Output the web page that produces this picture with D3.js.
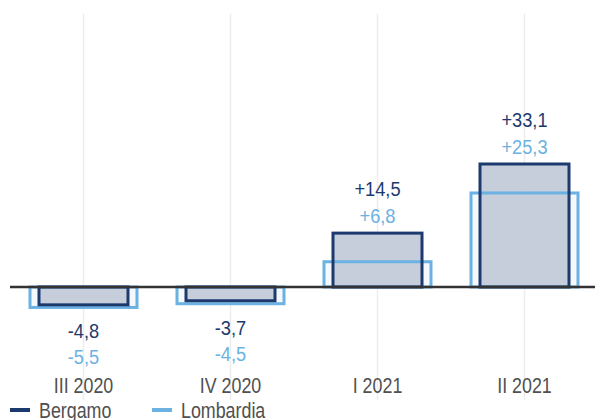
<!DOCTYPE html>
<html>
<head>
<meta charset="utf-8">
<script src="https://cdn.jsdelivr.net/npm/d3@7"></script>
<style>
  html, body { margin: 0; padding: 0; background: #fff; }
  svg { display: block; }
  text { font-family: "Liberation Sans", Arial, sans-serif; }
</style>
</head>
<body>
<div id="chart"></div>
<script>
// dati
const quarters = ['III 2020', 'IV 2020', 'I 2021', 'II 2021'];
const bergamo = [-4.8, -3.7, 14.5, 33.1];
const lombardia = [-5.5, -4.5, 6.8, 25.3];
const seriesNames = ['Bergamo', 'Lombardia'];

const W = 595, H = 420;
const dark = '#1d3a6e', light = '#6bb2e2';
const NARROW = 'scale(0.83,1)'; // simula un font condensato

const svg = d3.select('#chart').append('svg')
    .attr('width', W).attr('height', H);

// scale
const x = d3.scaleBand().domain(quarters).range([10, 598]).padding(0);
const y = d3.scaleLinear().domain([0, 33.1]).range([287, 164]);

const fmt = v => (v > 0 ? '+' : '') + d3.format('.1f')(v).replace('.', ',').replace('\u2212', '-');
const bw = x.bandwidth();
const wideW = 110, narrowW = 92;
const cx = d => x(d) + bw / 2;

// griglia verticale
svg.append('g').selectAll('line')
    .data(quarters).enter().append('line')
    .attr('x1', d => cx(d)).attr('x2', d => cx(d))
    .attr('y1', 14).attr('y2', 400)
    .attr('stroke', '#ededed').attr('stroke-width', 1.5);

const data = quarters.map((q, i) => ({ q, b: bergamo[i], l: lombardia[i] }));

function bars(key, w, cls) {
    return svg.append('g').attr('class', cls).selectAll('rect')
        .data(data).enter().append('rect')
        .attr('x', d => cx(d.q) - w / 2 + 1.5)
        .attr('y', d => Math.min(y(d[key]), y(0)))
        .attr('width', w - 3)
        .attr('height', d => Math.abs(y(d[key]) - y(0)));
}

// riempimenti
bars('l', wideW, 'l-fill').attr('fill', '#f5f8fc');
bars('b', narrowW, 'b-fill').attr('fill', '#c3cbd9').attr('fill-opacity', 0.95);
// contorni
bars('l', wideW, 'l-line').attr('fill', 'none').attr('stroke', light).attr('stroke-width', 3);
bars('b', narrowW, 'b-line').attr('fill', 'none').attr('stroke', dark).attr('stroke-width', 3);

// linea dello zero
svg.append('line')
    .attr('x1', 10).attr('x2', W)
    .attr('y1', y(0)).attr('y2', y(0))
    .attr('stroke', '#333').attr('stroke-width', 2.5);

// etichette valori
const labels = svg.append('g').attr('text-anchor', 'middle').attr('font-size', 20.5);
function label(xx, yy, col, txt) {
    labels.append('text')
        .attr('transform', `translate(${xx},${yy}) scale(0.89,1)`)
        .attr('fill', col).text(txt);
}
data.forEach(d => {
    let y1, y2;
    if (d.b >= 0) {
        const top = Math.min(y(d.b), y(d.l));
        y1 = top - 37; y2 = top - 10.5;
    } else {
        const bot = Math.max(y(d.b), y(d.l));
        y1 = bot + 31; y2 = bot + 57;
    }
    label(cx(d.q), y1, dark, fmt(d.b));
    label(cx(d.q), y2, light, fmt(d.l));
});

// asse categorie
const axis = svg.append('g')
    .attr('transform', 'translate(0,393)')
    .call(d3.axisBottom(x).tickSize(0).tickPadding(0));
axis.select('.domain').remove();
axis.selectAll('text')
    .attr('dy', 0).attr('y', 0)
    .attr('transform', NARROW)
    .attr('font-size', 21.5)
    .attr('fill', '#505050')
    .style('font-family', '"Liberation Sans", Arial, sans-serif');

// legenda
const legX = [10, 152];
const leg = svg.append('g').selectAll('g')
    .data(seriesNames).enter().append('g')
    .attr('transform', (d, i) => `translate(${legX[i]},410)`);
leg.append('line')
    .attr('x1', 0).attr('x2', 20)
    .attr('stroke', (d, i) => i === 0 ? dark : light)
    .attr('stroke-width', 4);
leg.append('text')
    .attr('transform', `translate(29,8) ${NARROW}`)
    .attr('font-size', 21.5)
    .attr('fill', '#505050')
    .text(d => d);
</script>
</body>
</html>
